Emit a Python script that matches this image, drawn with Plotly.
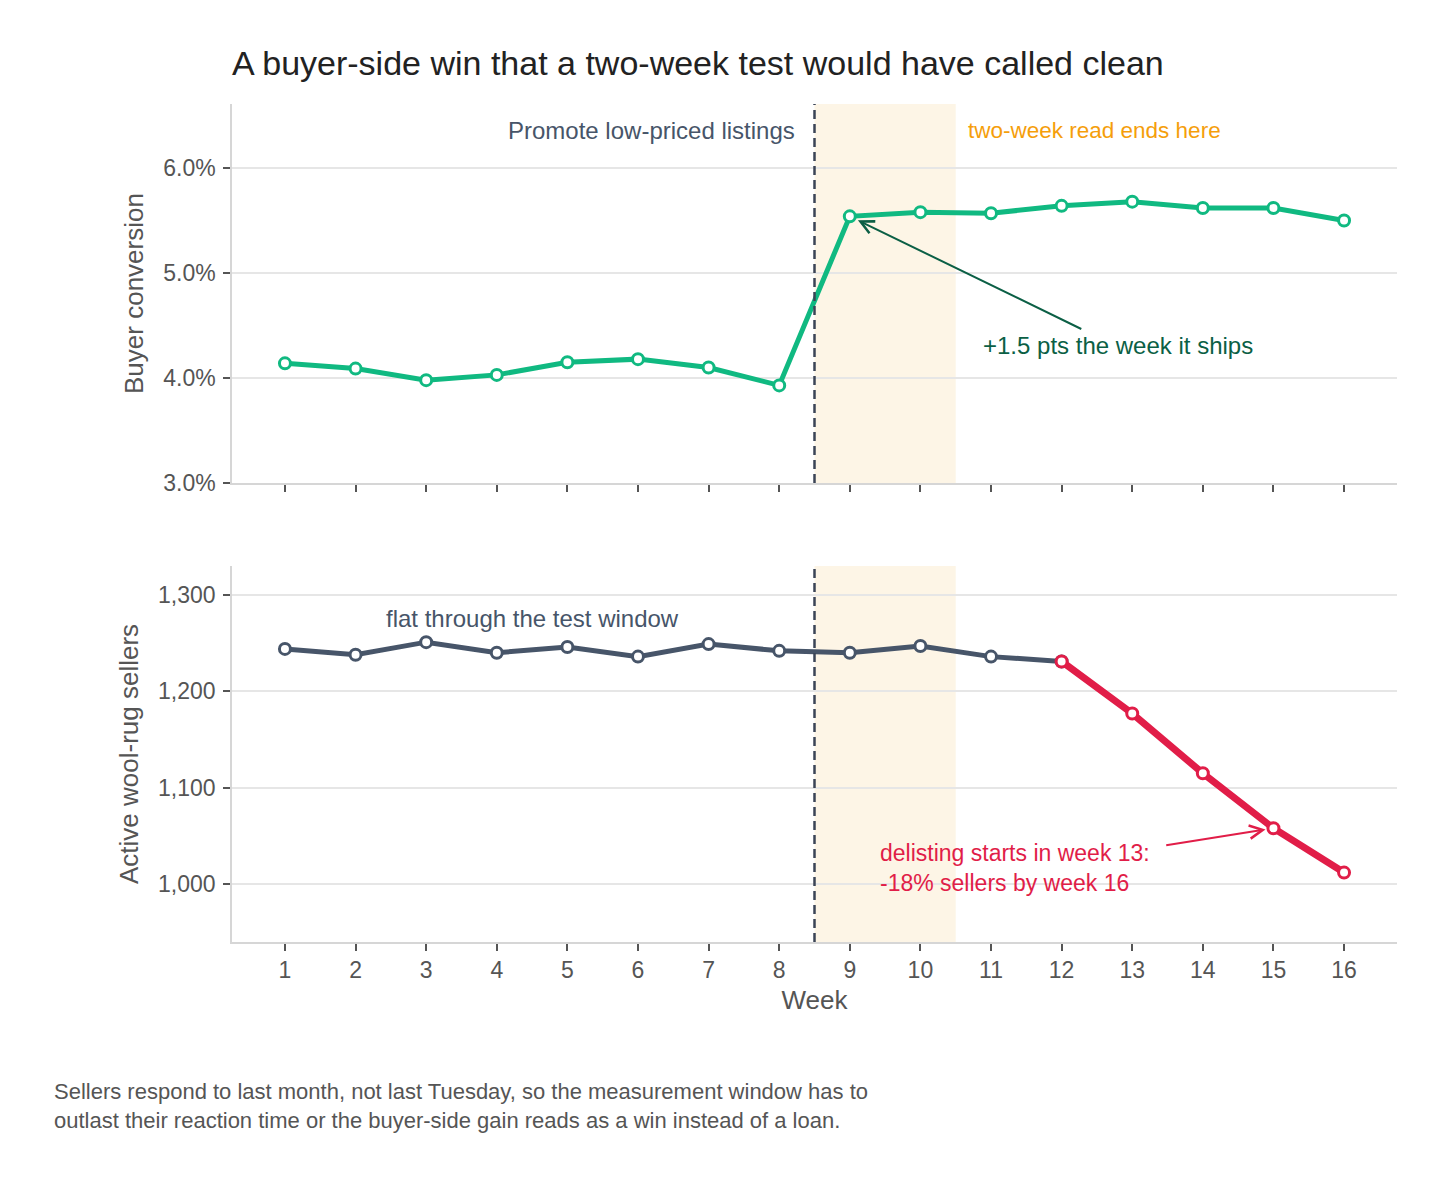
import plotly.graph_objects as go

# weekly data
weeks = list(range(1, 17))
buyer_conversion = [4.14, 4.09, 3.98, 4.03, 4.15, 4.18, 4.10, 3.93,
                    5.54, 5.58, 5.57, 5.64, 5.68, 5.62, 5.62, 5.50]
active_sellers = [1244, 1238, 1251, 1240, 1246, 1236, 1249, 1242,
                  1240, 1247, 1236, 1231, 1177, 1115, 1058, 1012]
decline_start = 12  # week where the red segment begins

conv_ticks = [3, 4, 5, 6]
conv_labels = ["3.0%", "4.0%", "5.0%", "6.0%"]
seller_ticks = [1000, 1100, 1200, 1300]

GREEN = "#10b981"
DARK_GREEN = "#0b5f45"
SLATE = "#475569"
RED = "#e11d48"
ORANGE = "#f59e0b"
BAND = "#fdf5e6"
GRID = "#e6e6e6"
AXIS = "#d6d6d6"
TEXT = "#555555"
FONT = "Helvetica Neue, Helvetica, Arial, Liberation Sans, sans-serif"

fig = go.Figure()

# top panel: buyer conversion
fig.add_trace(go.Scatter(
    x=weeks, y=buyer_conversion, mode="lines+markers",
    line=dict(color=GREEN, width=5),
    marker=dict(size=11, color="white", line=dict(color=GREEN, width=3)),
    xaxis="x", yaxis="y", showlegend=False, hoverinfo="skip",
))

# bottom panel: sellers, flat part then the decline
i0 = weeks.index(decline_start)
fig.add_trace(go.Scatter(
    x=weeks[:i0 + 1], y=active_sellers[:i0 + 1], mode="lines+markers",
    line=dict(color=SLATE, width=5),
    marker=dict(size=11, color="white", line=dict(color=SLATE, width=3)),
    xaxis="x2", yaxis="y2", showlegend=False, hoverinfo="skip",
))
fig.add_trace(go.Scatter(
    x=weeks[i0:], y=active_sellers[i0:], mode="lines+markers",
    line=dict(color=RED, width=7),
    marker=dict(size=11, color="white", line=dict(color=RED, width=3)),
    xaxis="x2", yaxis="y2", showlegend=False, hoverinfo="skip",
))

# shaded two-week read and the ship line, both panels
for xr, yr in [("x", "y domain"), ("x2", "y2 domain")]:
    fig.add_shape(type="rect", xref=xr, yref=yr, x0=8.5, x1=10.5, y0=0, y1=1,
                  fillcolor=BAND, line_width=0, layer="below")
    fig.add_shape(type="line", xref=xr, yref=yr, x0=8.5, x1=8.5, y0=0, y1=1,
                  line=dict(color="#3b4456", width=2.5, dash="9px,5px"))

xaxis_common = dict(
    range=[0.25, 16.75], tickvals=weeks, ticks="outside", ticklen=7,
    tickwidth=1.5, tickcolor="#555555", showline=True, linecolor=AXIS,
    linewidth=1.5, showgrid=False, zeroline=False,
    tickfont=dict(size=23, color=TEXT),
)
yaxis_common = dict(
    ticks="outside", ticklen=7, tickwidth=1.5, tickcolor="#555555",
    showline=True, linecolor=AXIS, linewidth=1.5, showgrid=True,
    gridcolor=GRID, gridwidth=1.5, zeroline=False, ticklabelstandoff=3,
    tickfont=dict(size=23, color=TEXT),
)

fig.update_layout(
    width=1448, height=1179,
    margin=dict(l=224, r=59, t=96, b=245),
    paper_bgcolor="white", plot_bgcolor="white",
    font=dict(family=FONT, color=TEXT),
    title=dict(
        text="A buyer-side win that a two-week test would have called clean",
        x=0, xref="paper", xanchor="left", y=1 - 55 / 1179, yref="container",
        yanchor="middle", font=dict(size=34, color="#222222"),
    ),
    xaxis=dict(xaxis_common, domain=[0, 1], anchor="y", showticklabels=False),
    yaxis=dict(yaxis_common, domain=[0.5477, 1], anchor="x", range=[3.0, 6.61],
               tickvals=conv_ticks, ticktext=conv_labels,
               title=dict(text="Buyer conversion", font=dict(size=26, color=TEXT),
                          standoff=12)),
    xaxis2=dict(xaxis_common, domain=[0, 1], anchor="y2", matches="x",
                title=dict(text="Week", font=dict(size=26, color=TEXT), standoff=8)),
    yaxis2=dict(yaxis_common, domain=[0, 0.4487], anchor="x2", range=[940, 1330],
                tickvals=seller_ticks, tickformat=",",
                title=dict(text="Active wool-rug sellers", font=dict(size=26, color=TEXT),
                           standoff=12)),
)

ann_font = 24
annotations = [
    dict(text="Promote low-priced listings", x=8.5, xref="x", y=6.36, yref="y",
         xanchor="right", xshift=-18, showarrow=False,
         font=dict(size=ann_font, color=SLATE)),
    dict(text="two-week read ends here", x=10.5, xref="x", y=6.36, yref="y",
         xanchor="left", xshift=10, showarrow=False,
         font=dict(size=22.5, color=ORANGE)),
    # green callout: text, then its arrow
    dict(text="+1.5 pts the week it ships", x=12.8, xref="x", y=4.31, yref="y",
         showarrow=False, font=dict(size=ann_font, color=DARK_GREEN)),
    dict(text="", x=9, xref="x", y=5.54, yref="y",
         ax=12.3, axref="x", ay=4.46, ayref="y", showarrow=True,
         arrowhead=5, arrowsize=1.3, arrowwidth=2, arrowcolor=DARK_GREEN, standoff=9),
    dict(text="flat through the test window", x=4.5, xref="x2", y=1276, yref="y2",
         showarrow=False, font=dict(size=ann_font, color=SLATE)),
    # red callout: text, then its arrow
    dict(text="delisting starts in week 13:<br>-18% sellers by week 16",
         x=9.4, xref="x2", y=1017, yref="y2", xanchor="left", yanchor="middle",
         align="left", showarrow=False, font=dict(size=23, color=RED)),
    dict(text="", x=15, xref="x2", y=1058, yref="y2",
         ax=13.46, axref="x2", ay=1040, ayref="y2", showarrow=True,
         arrowhead=5, arrowsize=1.3, arrowwidth=2, arrowcolor=RED, standoff=8),
    # footnote
    dict(text="Sellers respond to last month, not last Tuesday, so the measurement window has to<br>"
              "outlast their reaction time or the buyer-side gain reads as a win instead of a loan.",
         x=-0.1545, xref="paper", y=-0.1957, yref="paper", xanchor="left",
         yanchor="middle", align="left", showarrow=False,
         font=dict(size=22, color=TEXT)),
]
fig.update_layout(annotations=annotations)

fig.write_html("out.html")
